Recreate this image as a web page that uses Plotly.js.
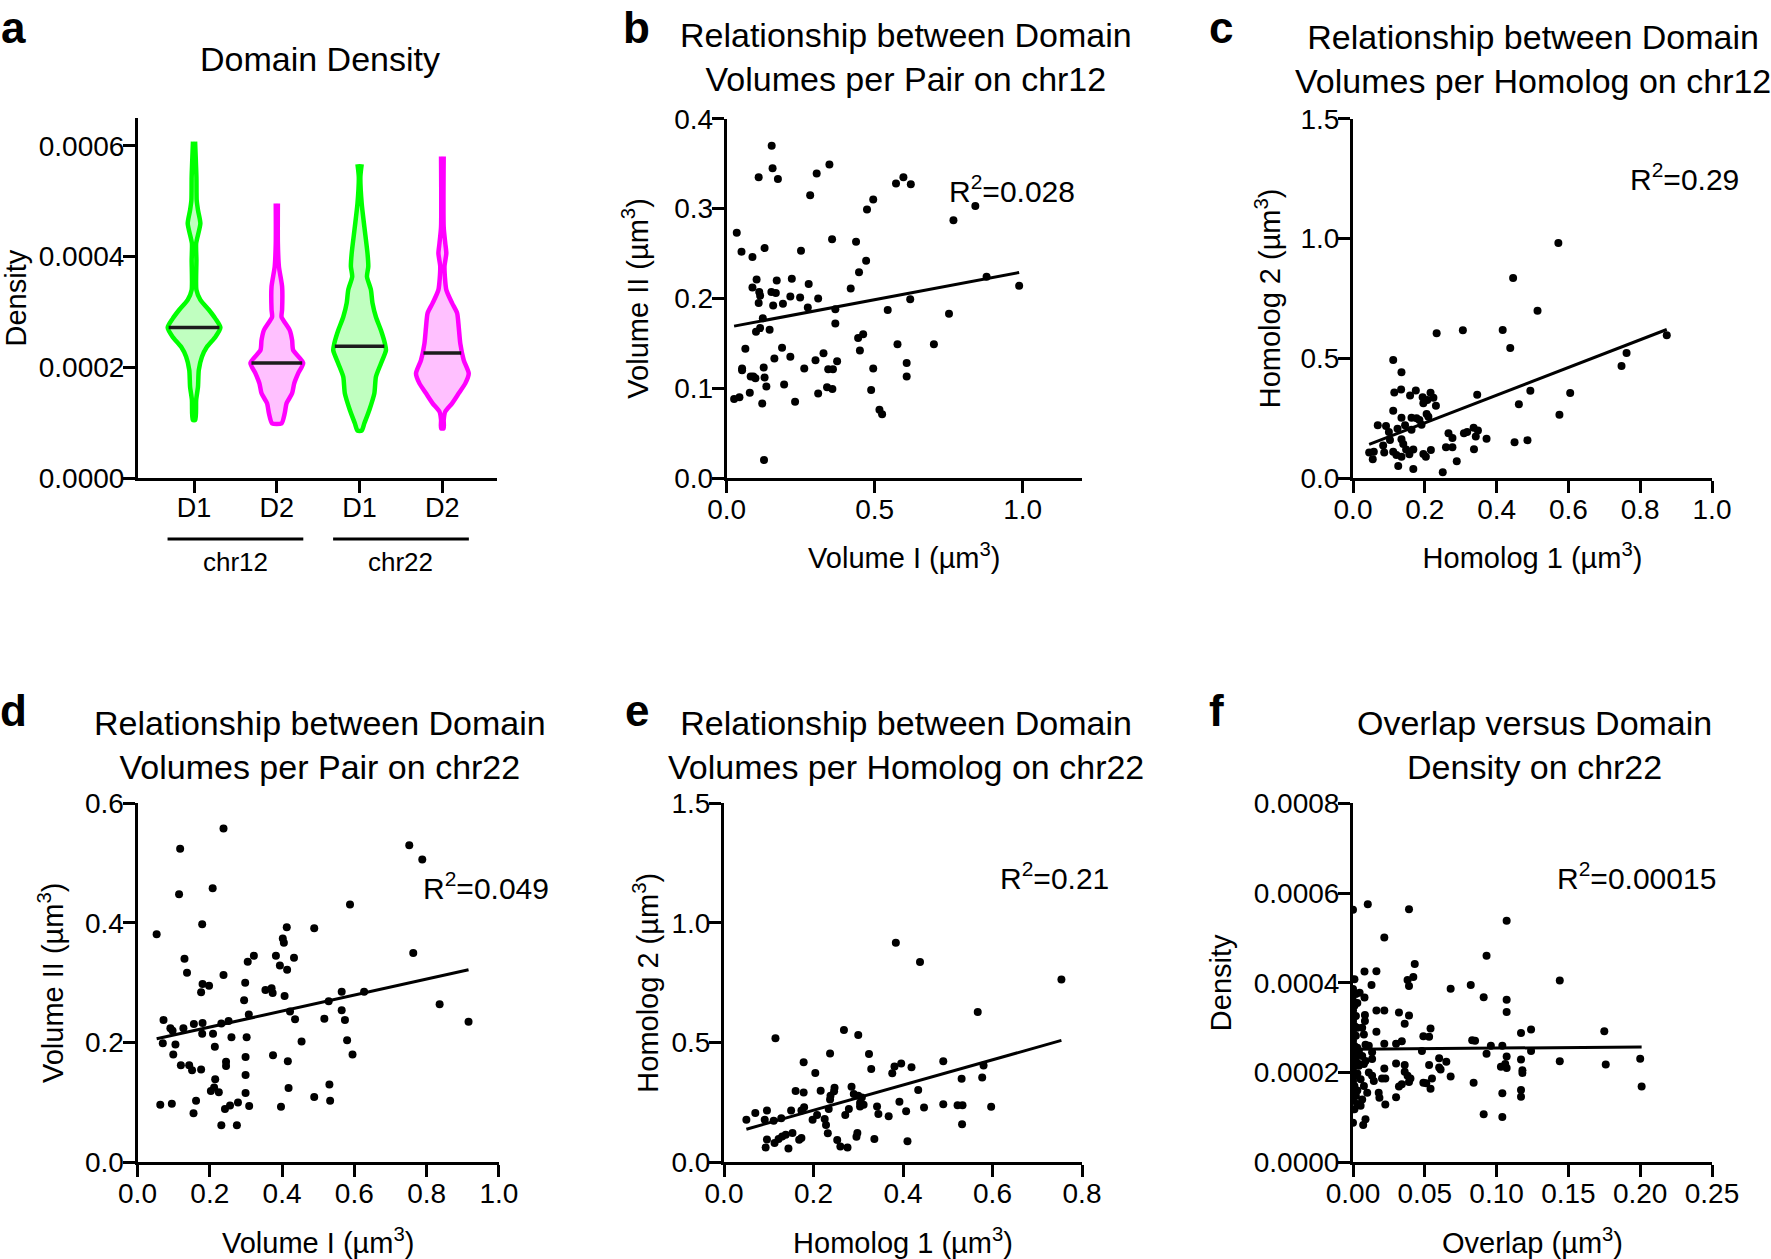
<!DOCTYPE html>
<html>
<head>
<meta charset="utf-8">
<script src="https://cdn.plot.ly/plotly-3.0.1.min.js"></script>
<style>
  body { margin: 0; background: #fff; }
  #chart { width: 1771px; height: 1259px; }
</style>
</head>
<body>
<div id="chart"></div>
<script>
// ---- panel a: violin outlines (density value, relative half width) ----
const violinCats = ['D1', 'D2', 'D1', 'D2'];
const violinGroups = ['chr12', 'chr22'];
const violinMedians = [0.000272, 0.000208, 0.000238, 0.000226];

const chr12D1Density = [0.000608, 0.000544, 0.000502, 0.000484, 0.000460, 0.000424, 0.000394, 0.000340, 0.000322, 0.000304, 0.000288, 0.000272, 0.000255, 0.000237, 0.000219, 0.000195, 0.000165, 0.000141, 0.000105];
const chr12D1Width = [0.04, 0.09, 0.10, 0.15, 0.24, 0.08, 0.09, 0.09, 0.24, 0.56, 0.81, 1.0, 0.81, 0.49, 0.30, 0.18, 0.15, 0.08, 0.05];
const chr12D2Density = [0.000496, 0.000424, 0.000382, 0.000346, 0.000304, 0.000291, 0.000267, 0.000249, 0.000231, 0.000208, 0.000189, 0.000171, 0.000153, 0.000135, 0.000117, 0.0000988];
const chr12D2Width = [0.04, 0.04, 0.08, 0.20, 0.20, 0.18, 0.49, 0.58, 0.62, 1.0, 0.81, 0.66, 0.58, 0.37, 0.30, 0.18];
const chr22D1Density = [0.000567, 0.000544, 0.000496, 0.000454, 0.000406, 0.000382, 0.000364, 0.000340, 0.000316, 0.000291, 0.000267, 0.000243, 0.000231, 0.000207, 0.000183, 0.000153, 0.000123, 0.0000988, 0.0000855];
const chr22D1Width = [0.08, 0.03, 0.08, 0.18, 0.30, 0.33, 0.28, 0.43, 0.49, 0.62, 0.81, 0.96, 1.0, 0.81, 0.62, 0.56, 0.37, 0.18, 0.08];
const chr22D2Density = [0.000581, 0.000454, 0.000424, 0.000406, 0.000382, 0.000340, 0.000316, 0.000298, 0.000273, 0.000243, 0.000213, 0.000189, 0.000171, 0.000153, 0.000135, 0.000120, 0.000105, 0.0000898];
const chr22D2Width = [0.05, 0.05, 0.11, 0.15, 0.08, 0.15, 0.37, 0.56, 0.62, 0.68, 0.81, 1.0, 0.87, 0.62, 0.37, 0.11, 0.05, 0.05];

// ---- panel b: volumes per pair, chr12 ----
const pairChr12X = [0.152, 0.155, 0.173, 0.108, 0.304, 0.347, 0.282, 0.034, 0.050, 0.087,
  0.128, 0.251, 0.356, 0.437, 0.471, 0.447, 0.474, 0.495, 0.572, 0.597,
  0.622, 0.766, 0.840, 0.878, 0.988, 0.101, 0.087, 0.110, 0.113, 0.108,
  0.151, 0.166, 0.169, 0.220, 0.277, 0.215, 0.248, 0.157, 0.190, 0.274,
  0.309, 0.419, 0.367, 0.544, 0.620, 0.122, 0.113, 0.099, 0.145, 0.367,
  0.751, 0.444, 0.461, 0.577, 0.700, 0.063, 0.187, 0.450, 0.215, 0.161,
  0.327, 0.300, 0.373, 0.608, 0.052, 0.052, 0.125, 0.262, 0.343, 0.359,
  0.495, 0.081, 0.097, 0.090, 0.128, 0.608, 0.134, 0.194, 0.078, 0.309,
  0.339, 0.357, 0.488, 0.025, 0.043, 0.120, 0.231, 0.516, 0.525, 0.126];
const pairChr12Y = [0.370, 0.345, 0.333, 0.335, 0.339, 0.349, 0.315, 0.273, 0.252, 0.246,
  0.256, 0.253, 0.266, 0.263, 0.242, 0.229, 0.299, 0.310, 0.328, 0.335,
  0.327, 0.287, 0.303, 0.224, 0.214, 0.221, 0.212, 0.207, 0.203, 0.195,
  0.207, 0.206, 0.220, 0.222, 0.216, 0.202, 0.201, 0.192, 0.194, 0.190,
  0.200, 0.211, 0.188, 0.187, 0.199, 0.178, 0.167, 0.163, 0.165, 0.172,
  0.183, 0.156, 0.160, 0.149, 0.149, 0.144, 0.145, 0.142, 0.135, 0.133,
  0.139, 0.131, 0.130, 0.128, 0.122, 0.120, 0.123, 0.122, 0.121, 0.121,
  0.122, 0.113, 0.111, 0.113, 0.112, 0.113, 0.102, 0.104, 0.095, 0.094,
  0.101, 0.099, 0.098, 0.088, 0.090, 0.083, 0.085, 0.076, 0.071, 0.020];
const pairChr12Fit = [0.1676, 0.062]; // intercept, slope
const pairChr12R2 = '0.028';

// ---- panel c: volumes per homolog, chr12 ----
const homChr12X = [0.572, 0.446, 0.514, 0.233, 0.306, 0.417, 0.438, 0.874, 0.762, 0.748,
  0.605, 0.494, 0.462, 0.575, 0.450, 0.486, 0.250,
  0.112, 0.135, 0.115, 0.134, 0.159, 0.175, 0.194, 0.216, 0.224, 0.207,
  0.231, 0.196, 0.346, 0.112, 0.135, 0.163, 0.177, 0.185, 0.205, 0.210,
  0.191, 0.069, 0.092, 0.100, 0.124, 0.145, 0.163, 0.135, 0.140, 0.103,
  0.084, 0.045, 0.058, 0.055, 0.087, 0.112, 0.121, 0.148, 0.157, 0.168,
  0.135, 0.126, 0.168, 0.196, 0.203, 0.217, 0.266, 0.277, 0.309, 0.318,
  0.336, 0.348, 0.342, 0.372, 0.259, 0.277, 0.337, 0.289];
const homChr12Y = [0.981, 0.835, 0.698, 0.604, 0.617, 0.618, 0.543, 0.596, 0.522, 0.468,
  0.355, 0.364, 0.308, 0.264, 0.149, 0.158, 0.024,
  0.493, 0.442, 0.357, 0.370, 0.345, 0.365, 0.337, 0.356, 0.335, 0.326,
  0.302, 0.312, 0.348, 0.281, 0.252, 0.252, 0.249, 0.242, 0.267, 0.256,
  0.222, 0.220, 0.217, 0.192, 0.206, 0.220, 0.201, 0.162, 0.142, 0.159,
  0.136, 0.106, 0.110, 0.078, 0.106, 0.110, 0.096, 0.119, 0.099, 0.119,
  0.089, 0.050, 0.038, 0.100, 0.089, 0.117, 0.187, 0.167, 0.187, 0.192,
  0.210, 0.198, 0.173, 0.164, 0.128, 0.128, 0.120, 0.070];
const homChr12Fit = [0.114, 0.579];
const homChr12R2 = '0.29';

// ---- panel d: volumes per pair, chr22 ----
const pairChr22X = [0.238, 0.118, 0.752, 0.788, 0.115, 0.208, 0.588, 0.053, 0.179, 0.413,
  0.489, 0.402, 0.405, 0.130, 0.322, 0.305, 0.383, 0.433, 0.394, 0.414,
  0.137, 0.238, 0.298, 0.763, 0.180, 0.198, 0.176, 0.371, 0.354, 0.374,
  0.407, 0.295, 0.565, 0.627, 0.529, 0.565, 0.836, 0.308, 0.422, 0.517,
  0.436, 0.574, 0.916, 0.072, 0.091, 0.097, 0.127, 0.156, 0.180, 0.232,
  0.252, 0.260, 0.179, 0.209, 0.302, 0.070, 0.105, 0.214, 0.454, 0.580,
  0.099, 0.299, 0.375, 0.595, 0.120, 0.143, 0.151, 0.176, 0.245, 0.245,
  0.416, 0.299, 0.215, 0.212, 0.203, 0.225, 0.299, 0.418, 0.531, 0.162,
  0.063, 0.095, 0.155, 0.242, 0.256, 0.278, 0.309, 0.397, 0.489, 0.533,
  0.232, 0.275];
const pairChr22Y = [0.558, 0.524, 0.530, 0.506, 0.448, 0.458, 0.431, 0.381, 0.398, 0.393,
  0.391, 0.374, 0.367, 0.340, 0.345, 0.335, 0.345, 0.342, 0.329, 0.322,
  0.317, 0.313, 0.300, 0.350, 0.298, 0.295, 0.284, 0.291, 0.288, 0.283,
  0.278, 0.271, 0.285, 0.285, 0.269, 0.254, 0.264, 0.247, 0.252, 0.240,
  0.239, 0.238, 0.235, 0.238, 0.224, 0.220, 0.224, 0.231, 0.233, 0.232,
  0.236, 0.209, 0.215, 0.215, 0.209, 0.199, 0.197, 0.193, 0.202, 0.204,
  0.180, 0.176, 0.179, 0.180, 0.162, 0.162, 0.154, 0.155, 0.168, 0.161,
  0.169, 0.146, 0.139, 0.125, 0.119, 0.117, 0.116, 0.124, 0.130, 0.103,
  0.096, 0.098, 0.082, 0.089, 0.095, 0.100, 0.094, 0.093, 0.109, 0.103,
  0.062, 0.062];
const pairChr22Fit = [0.1993, 0.1336];
const pairChr22R2 = '0.049';

// ---- panel e: volumes per homolog, chr22 ----
const homChr22X = [0.384, 0.438, 0.754, 0.567, 0.490, 0.580, 0.531, 0.577, 0.490, 0.522,
  0.533, 0.597, 0.447, 0.532,
  0.115, 0.268, 0.300, 0.237, 0.324, 0.178, 0.204, 0.329, 0.381, 0.396,
  0.419, 0.376, 0.160, 0.178, 0.216, 0.247, 0.246, 0.238, 0.237, 0.285,
  0.290, 0.300, 0.308, 0.304, 0.304, 0.312, 0.434, 0.050, 0.070, 0.096,
  0.091, 0.111, 0.128, 0.150, 0.173, 0.179, 0.198, 0.208, 0.225, 0.228,
  0.232, 0.234, 0.271, 0.279, 0.342, 0.345, 0.368, 0.392, 0.407, 0.096,
  0.093, 0.113, 0.122, 0.130, 0.138, 0.153, 0.168, 0.173, 0.144, 0.253,
  0.260, 0.276, 0.296, 0.298, 0.336, 0.410];
const homChr22Y = [0.917, 0.837, 0.764, 0.628, 0.422, 0.404, 0.349, 0.354, 0.243, 0.238,
  0.238, 0.232, 0.229, 0.159,
  0.518, 0.553, 0.532, 0.455, 0.453, 0.418, 0.373, 0.390, 0.400, 0.413,
  0.397, 0.372, 0.298, 0.292, 0.299, 0.312, 0.297, 0.278, 0.262, 0.316,
  0.285, 0.278, 0.271, 0.248, 0.233, 0.240, 0.302, 0.178, 0.206, 0.216,
  0.178, 0.174, 0.184, 0.216, 0.216, 0.230, 0.178, 0.198, 0.181, 0.156,
  0.121, 0.223, 0.198, 0.223, 0.233, 0.202, 0.192, 0.253, 0.213, 0.095,
  0.062, 0.081, 0.097, 0.108, 0.115, 0.122, 0.094, 0.102, 0.058, 0.093,
  0.066, 0.062, 0.107, 0.122, 0.097, 0.088];
const homChr22Fit = [0.112, 0.527];
const homChr22R2 = '0.21';

// ---- panel f: overlap vs density, chr22 ----
const overlapX = [0.000, 0.001, 0.000, 0.002, 0.000, 0.001, 0.000, 0.002, 0.000, 0.001,
  0.000, 0.002, 0.000, 0.001, 0.000, 0.002, 0.000, 0.001, 0.000, 0.002,
  0.000, 0.001, 0.000, 0.002, 0.000, 0.001, 0.000,
  0.003, 0.003, 0.003, 0.003, 0.003, 0.003, 0.003,
  0.0103, 0.0218, 0.0080, 0.0163, 0.0129, 0.0080, 0.0046, 0.0083, 0.0083, 0.0064,
  0.0076, 0.0163, 0.0218, 0.0163, 0.0087, 0.0110, 0.0133, 0.0041, 0.0064, 0.0087,
  0.0133, 0.0041, 0.0076, 0.0110, 0.0133, 0.0145, 0.0053, 0.0076, 0.0099, 0.0064,
  0.0053, 0.0087, 0.0071, 0.0179, 0.0184, 0.0225, 0.0202, 0.0218, 0.0225, 0.0218,
  0.039, 0.107, 0.093, 0.043, 0.042, 0.038, 0.039, 0.068, 0.082, 0.144,
  0.091, 0.107, 0.032, 0.107, 0.039, 0.036, 0.054, 0.049, 0.053, 0.124,
  0.117, 0.175, 0.034, 0.030, 0.083, 0.085, 0.096, 0.104, 0.093, 0.048,
  0.124, 0.107, 0.060, 0.065, 0.117, 0.144, 0.200, 0.176, 0.030, 0.036,
  0.053, 0.060, 0.061, 0.103, 0.106, 0.107, 0.118, 0.118, 0.036, 0.038,
  0.040, 0.039, 0.034, 0.032, 0.068, 0.055, 0.049, 0.051, 0.054, 0.084,
  0.201, 0.117, 0.117, 0.104, 0.030, 0.091, 0.104];
const overlapDensity = [0.000563, 0.000408, 0.000386, 0.000375, 0.000360, 0.000349, 0.000338, 0.000326, 0.000315, 0.000304,
  0.000293, 0.000282, 0.000271, 0.000259, 0.000248, 0.000237, 0.000226, 0.000215, 0.000204, 0.000193,
  0.000181, 0.000170, 0.000159, 0.000148, 0.000137, 0.000118, 0.000088,
  0.000355, 0.000300, 0.000255, 0.000222, 0.000198, 0.000160, 0.000130,
  0.000575, 0.000501, 0.000425, 0.000426, 0.000395, 0.000367, 0.000378, 0.000328, 0.000315, 0.000300,
  0.000285, 0.000338, 0.000338, 0.000291, 0.000262, 0.000260, 0.000245, 0.000248, 0.000237, 0.000226,
  0.000230, 0.000215, 0.000219, 0.000200, 0.000193, 0.000181, 0.000185, 0.000170, 0.000155, 0.000140,
  0.000126, 0.000096, 0.000083, 0.000155, 0.000144, 0.000129, 0.000187, 0.000209, 0.000187, 0.000264,
  0.000564, 0.000538, 0.000460, 0.000442, 0.000413, 0.000406, 0.000393, 0.000387, 0.000395, 0.000405,
  0.000368, 0.000362, 0.000334, 0.000335, 0.000327, 0.000309, 0.000298, 0.000281, 0.000280, 0.000296,
  0.000288, 0.000292, 0.000270, 0.000264, 0.000272, 0.000271, 0.000260, 0.000260, 0.000242, 0.000248,
  0.000248, 0.000236, 0.000232, 0.000224, 0.000229, 0.000225, 0.000231, 0.000218, 0.000220, 0.000217,
  0.000217, 0.000211, 0.000207, 0.000213, 0.000219, 0.000210, 0.000205, 0.000199, 0.000202, 0.000193,
  0.000187, 0.000179, 0.000174, 0.000169, 0.000191, 0.000187, 0.000177, 0.000176, 0.000164, 0.000177,
  0.000169, 0.000161, 0.000146, 0.000154, 0.000145, 0.000107, 0.000101];
const overlapFit = [0.000252, 0.000025];
const overlapR2 = '0.00015';

// ---------------- drawing ----------------
const FONT = 'Liberation Sans, Arial, Helvetica, sans-serif';
const W = 1771, H = 1259;
const fx = px => px / W;       // pixel -> paper x
const fy = py => 1 - py / H;   // pixel -> paper y
const HALF = 0.3185;           // widest violin half width, in category units

function widthAt(dens, width, v) {
    for (let i = 0; i < dens.length - 1; i++) {
        if (v <= dens[i] && v >= dens[i + 1]) {
            const t = (dens[i] - v) / (dens[i] - dens[i + 1]);
            return width[i] + t * (width[i + 1] - width[i]);
        }
    }
    return 0;
}

function violin(center, dens, width, median, stroke, fill) {
    const xs = [], ys = [];
    for (let i = 0; i < dens.length; i++) { xs.push(center + width[i] * HALF); ys.push(dens[i]); }
    for (let i = dens.length - 1; i >= 0; i--) { xs.push(center - width[i] * HALF); ys.push(dens[i]); }
    const w = widthAt(dens, width, median) * HALF - 0.012;
    return [
        {type: 'scatter', x: xs, y: ys, mode: 'lines', fill: 'toself', fillcolor: fill,
         line: {color: stroke, width: 4.5, shape: 'spline', smoothing: 0.6},
         xaxis: 'x', yaxis: 'y', hoverinfo: 'skip'},
        {type: 'scatter', x: [center - w, center + w], y: [median, median], mode: 'lines',
         line: {color: '#1c1c1c', width: 3.5}, xaxis: 'x', yaxis: 'y', hoverinfo: 'skip'}
    ];
}

function scatterPanel(xs, ys, fit, n) {
    const lo = Math.min(...xs), hi = Math.max(...xs);
    return [
        {type: 'scatter', x: xs, y: ys, mode: 'markers', marker: {color: '#000', size: 8},
         xaxis: 'x' + n, yaxis: 'y' + n},
        {type: 'scatter', x: [lo, hi], y: [fit[0] + fit[1] * lo, fit[0] + fit[1] * hi], mode: 'lines',
         line: {color: '#000', width: 3}, xaxis: 'x' + n, yaxis: 'y' + n}
    ];
}

const GREEN = '#00ff00', GREEN_FILL = '#c0ffc0';
const MAGENTA = '#ff00ff', MAGENTA_FILL = '#ffc0ff';

const traces = [].concat(
    violin(0, chr12D1Density, chr12D1Width, violinMedians[0], GREEN, GREEN_FILL),
    violin(1, chr12D2Density, chr12D2Width, violinMedians[1], MAGENTA, MAGENTA_FILL),
    violin(2, chr22D1Density, chr22D1Width, violinMedians[2], GREEN, GREEN_FILL),
    violin(3, chr22D2Density, chr22D2Width, violinMedians[3], MAGENTA, MAGENTA_FILL),
    scatterPanel(pairChr12X, pairChr12Y, pairChr12Fit, 2),
    scatterPanel(homChr12X, homChr12Y, homChr12Fit, 3),
    scatterPanel(pairChr22X, pairChr22Y, pairChr22Fit, 4),
    scatterPanel(homChr22X, homChr22Y, homChr22Fit, 5),
    scatterPanel(overlapX, overlapDensity, overlapFit, 6)
);

function axis(extra) {
    return Object.assign({
        showline: true, linewidth: 3, linecolor: '#000',
        ticks: 'outside', ticklen: 12, tickwidth: 3, tickcolor: '#000',
        ticklabelstandoff: -7,
        showgrid: false, zeroline: false, fixedrange: true,
        tickfont: {family: FONT, size: 28, color: '#000'}
    }, extra);
}
function axTitle(text, standoff) {
    return {text: text, standoff: standoff, font: {family: FONT, size: 29, color: '#000'}};
}

const um3 = ' (µm<sup>3</sup>)';
const rowTop = [fy(478), fy(118.8)];
const rowBottom = [fy(1162.3), fy(803.3)];

const layout = {
    width: W, height: H,
    margin: {l: 0, r: 0, t: 0, b: 0},
    paper_bgcolor: '#fff', plot_bgcolor: 'rgba(0,0,0,0)',
    showlegend: false,
    font: {family: FONT, color: '#000'},

    xaxis: axis({domain: [fx(138), fx(497)], range: [-0.677, 3.66], anchor: 'y',
                 tickvals: [0, 1, 2, 3], ticktext: violinCats, ticklabelstandoff: -8,
                 tickfont: {family: FONT, size: 27, color: '#000'}}),
    yaxis: axis({domain: [fy(478), fy(118.3)], range: [0, 0.00065], anchor: 'x',
                 tick0: 0, dtick: 0.0002, tickformat: '.4f', title: axTitle('Density', 11)}),

    xaxis2: axis({domain: [fx(726.7), fx(1081.9)], range: [0, 1.2], anchor: 'y2', ticklabelstandoff: -8,
                  tick0: 0, dtick: 0.5, tickformat: '.1f', title: axTitle('Volume I' + um3, 25)}),
    yaxis2: axis({domain: rowTop, range: [0, 0.4], anchor: 'x2',
                  tick0: 0, dtick: 0.1, tickformat: '.1f', title: axTitle('Volume II' + um3, 18)}),

    xaxis3: axis({domain: [fx(1353), fx(1712)], range: [0, 1.0], anchor: 'y3', ticklabelstandoff: -8,
                  tick0: 0, dtick: 0.2, tickformat: '.1f', title: axTitle('Homolog 1' + um3, 25)}),
    yaxis3: axis({domain: rowTop, range: [0, 1.5], anchor: 'x3',
                  tick0: 0, dtick: 0.5, tickformat: '.1f', title: axTitle('Homolog 2' + um3, 12)}),

    xaxis4: axis({domain: [fx(137.5), fx(498.9)], range: [0, 1.0], anchor: 'y4', ticklabelstandoff: -8,
                  tick0: 0, dtick: 0.2, tickformat: '.1f', title: axTitle('Volume I' + um3, 37)}),
    yaxis4: axis({domain: rowBottom, range: [0, 0.6], anchor: 'x4',
                  tick0: 0, dtick: 0.2, tickformat: '.1f', title: axTitle('Volume II' + um3, 13)}),

    xaxis5: axis({domain: [fx(724), fx(1082)], range: [0, 0.8], anchor: 'y5', ticklabelstandoff: -8,
                  tick0: 0, dtick: 0.2, tickformat: '.1f', title: axTitle('Homolog 1' + um3, 37)}),
    yaxis5: axis({domain: rowBottom, range: [0, 1.5], anchor: 'x5',
                  tick0: 0, dtick: 0.5, tickformat: '.1f', title: axTitle('Homolog 2' + um3, 5)}),

    xaxis6: axis({domain: [fx(1353), fx(1712)], range: [0, 0.25], anchor: 'y6', ticklabelstandoff: -8,
                  tick0: 0, dtick: 0.05, tickformat: '.2f', title: axTitle('Overlap' + um3, 37)}),
    yaxis6: axis({domain: rowBottom, range: [0, 0.0008], anchor: 'x6',
                  tick0: 0, dtick: 0.0002, tickformat: '.4f', title: axTitle('Density', 14)}),

    shapes: [],
    annotations: []
};

// group brackets under the violins
const groupMembers = [[0, 1], [2, 3]];
groupMembers.forEach((m, i) => {
    layout.shapes.push({type: 'line', xref: 'x', yref: 'paper',
        x0: m[0] - 0.32, x1: m[1] + 0.32, y0: fy(539), y1: fy(539),
        line: {color: '#000', width: 3}});
    layout.annotations.push({xref: 'x', yref: 'paper', x: (m[0] + m[1]) / 2, y: fy(562),
        text: violinGroups[i], showarrow: false, xanchor: 'center', yanchor: 'middle',
        font: {family: FONT, size: 26, color: '#000'}});
});

function note(text, px, py, size, extra) {
    layout.annotations.push(Object.assign({xref: 'paper', yref: 'paper', x: fx(px), y: fy(py),
        text: text, showarrow: false, xanchor: 'center', yanchor: 'middle',
        font: {family: FONT, size: size, color: '#000'}}, extra || {}));
}

// panel titles
note('Domain Density', 320, 59, 34);
note('Relationship between Domain<br>Volumes per Pair on chr12', 906, 57, 34);
note('Relationship between Domain<br>Volumes per Homolog on chr12', 1533, 59, 34);
note('Relationship between Domain<br>Volumes per Pair on chr22', 320, 745, 34);
note('Relationship between Domain<br>Volumes per Homolog on chr22', 906, 745, 34);
note('Overlap versus Domain<br>Density on chr22', 1534, 745, 34);

// R squared labels
note('R<sup>2</sup>=' + pairChr12R2, 1012, 189, 30);
note('R<sup>2</sup>=' + homChr12R2, 1684, 177, 30);
note('R<sup>2</sup>=' + pairChr22R2, 486, 886, 30);
note('R<sup>2</sup>=' + homChr22R2, 1054, 876, 30);
note('R<sup>2</sup>=' + overlapR2, 1636, 876, 30);

// panel letters
const boldLetter = {font: {family: FONT, size: 44, color: '#000', weight: 'bold'}};
note('<b>a</b>', 13, 27, 44, boldLetter);
note('<b>b</b>', 636, 27, 44, boldLetter);
note('<b>c</b>', 1221, 27, 44, boldLetter);
note('<b>d</b>', 14, 710, 44, boldLetter);
note('<b>e</b>', 637, 710, 44, boldLetter);
note('<b>f</b>', 1216, 710, 44, boldLetter);

Plotly.newPlot('chart', traces, layout, {displayModeBar: false, staticPlot: true});
</script>
</body>
</html>
